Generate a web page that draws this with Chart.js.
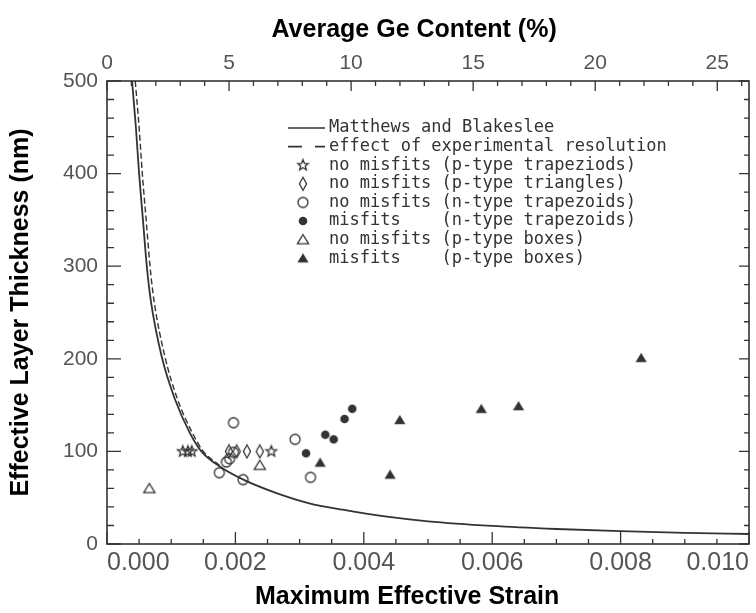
<!DOCTYPE html>
<html>
<head>
<meta charset="utf-8">
<script src="https://cdn.jsdelivr.net/npm/chart.js@4.4.0/dist/chart.umd.min.js"></script>
<style>
  html, body { margin: 0; padding: 0; background: #fff; }
  #wrap { position: relative; width: 756px; height: 613px; }
</style>
</head>
<body>
<div id="wrap"><canvas id="grafica"></canvas></div>
<script>
// Matthews-Blakeslee critical thickness curve
const mbStrain = [0.00039, 0.00045, 0.0005, 0.00056, 0.00062, 0.00068, 0.00085, 0.00106, 0.00129, 0.00147, 0.00175, 0.00214, 0.00264, 0.00315, 0.00367, 0.0043, 0.005, 0.006, 0.007, 0.008, 0.009, 0.01];
const mbThickness = [500, 450, 400, 350, 300, 264, 203, 156, 120, 100, 84, 69, 55, 44, 37, 30, 24.5, 19.5, 16.2, 13.8, 12.1, 10.8];

// effect of experimental resolution (dashed)
const resStrain = [0.00044, 0.0005, 0.00055, 0.00061, 0.00067, 0.00073, 0.0009, 0.0011, 0.00133, 0.0015, 0.00177];
const resThickness = [500, 450, 400, 350, 300, 264, 203, 156, 120, 100, 84];

// measured samples
const starStrain = [0.00118, 0.00126, 0.00132, 0.00256];
const starThickness = [100, 100, 100, 100];

const diamondStrain = [0.0019, 0.00202, 0.00218, 0.00238];
const diamondThickness = [100, 100, 100, 100];

const openCircleStrain = [0.00197, 0.00175, 0.00212, 0.00293, 0.00317, 0.00197, 0.00186, 0.00191];
const openCircleThickness = [131, 77, 69.5, 113, 72, 99, 88.5, 92];

const dotStrain = [0.0031, 0.0034, 0.00353, 0.0037, 0.00382];
const dotThickness = [98, 118, 113, 135, 146];

const openTriStrain = [0.00066, 0.00238];
const openTriThickness = [60, 85];

const triStrain = [0.00332, 0.00441, 0.00456, 0.00583, 0.00641, 0.00832];
const triThickness = [88, 75, 134, 146, 149, 201];

const strainTicks = [0, 0.002, 0.004, 0.006, 0.008, 0.01];
const geTicks = [0, 5, 10, 15, 20, 25];
const legendLabels = [
    "Matthews and Blakeslee",
    "effect of experimental resolution",
    "no misfits (p-type trapeziods)",
    "no misfits (p-type triangles)",
    "no misfits (n-type trapezoids)",
    "misfits    (n-type trapezoids)",
    "no misfits (p-type boxes)",
    "misfits    (p-type boxes)"
];

const ink = '#333';

function pts(xs, ys) {
    return xs.map((x, i) => ({x: x, y: ys[i]}));
}

// marker glyphs
function marker(kind) {
    const c = document.createElement('canvas');
    c.width = 16; c.height = 16;
    const g = c.getContext('2d');
    g.strokeStyle = ink; g.fillStyle = ink; g.lineWidth = 1.3;
    g.translate(8, 8);
    g.beginPath();
    if (kind === 'star') {
        for (let i = 0; i < 10; i++) {
            const r = i % 2 ? 2.4 : 5.6;
            const a = -Math.PI / 2 + i * Math.PI / 5;
            g.lineTo(r * Math.cos(a), r * Math.sin(a));
        }
        g.closePath(); g.stroke();
    } else if (kind === 'diamond') {
        g.moveTo(0, -6.5); g.lineTo(3.6, 0); g.lineTo(0, 6.5); g.lineTo(-3.6, 0);
        g.closePath(); g.stroke();
    } else if (kind === 'circle') {
        g.arc(0, 0, 5, 0, Math.PI * 2); g.stroke();
    } else if (kind === 'dot') {
        g.arc(0, 0, 4.3, 0, Math.PI * 2); g.fill();
    } else if (kind === 'tri' || kind === 'filltri') {
        g.moveTo(0, -5); g.lineTo(5.6, 4.2); g.lineTo(-5.6, 4.2);
        g.closePath();
        if (kind === 'tri') g.stroke(); else g.fill();
    }
    return c;
}

const glyphs = {
    star: marker('star'), diamond: marker('diamond'), circle: marker('circle'),
    dot: marker('dot'), tri: marker('tri'), filltri: marker('filltri')
};

function scatterSet(label, data, glyph) {
    return {label: label, type: 'scatter', data: data, pointStyle: glyph, pointRadius: 6, showLine: false};
}

// inward tick marks + frame + legend
const frameTicks = {
    id: 'frameTicks',
    afterDraw(chart) {
        const {ctx, chartArea: a, scales} = chart;
        ctx.save();
        ctx.strokeStyle = ink;
        ctx.lineWidth = 1.6;
        ctx.strokeRect(a.left, a.top, a.right - a.left, a.bottom - a.top);
        ctx.lineWidth = 1.3;
        ctx.beginPath();
        for (let i = 0; i <= 20; i++) {
            const px = scales.x.getPixelForValue(i * 0.0005);
            const len = i % 4 === 0 ? 12 : 5;
            ctx.moveTo(px, a.bottom); ctx.lineTo(px, a.bottom - len);
        }
        for (let i = 0; i <= 26; i++) {
            const px = scales.x2.getPixelForValue(i);
            const len = i % 5 === 0 ? 10 : 5;
            ctx.moveTo(px, a.top); ctx.lineTo(px, a.top + len);
        }
        for (let i = 0; i <= 25; i++) {
            const py = scales.y.getPixelForValue(i * 20);
            const major = i % 5 === 0;
            ctx.moveTo(a.left, py); ctx.lineTo(a.left + (major ? 14 : 7), py);
            ctx.moveTo(a.right, py); ctx.lineTo(a.right - (major ? 10 : 5), py);
        }
        ctx.stroke();

        // legend
        const lx = 288, tx = 329, y0 = 128, dy = 18.6;
        ctx.font = '17px "DejaVu Sans Mono"';
        ctx.fillStyle = ink;
        ctx.textBaseline = 'middle';
        ctx.textAlign = 'left';
        ctx.lineWidth = 1.6;
        ctx.beginPath();
        ctx.moveTo(lx, y0); ctx.lineTo(lx + 37, y0);
        ctx.moveTo(lx, y0 + dy); ctx.lineTo(lx + 14, y0 + dy);
        ctx.moveTo(lx + 27, y0 + dy); ctx.lineTo(lx + 37, y0 + dy);
        ctx.stroke();
        const order = ['star', 'diamond', 'circle', 'dot', 'tri', 'filltri'];
        legendLabels.forEach((t, i) => {
            const y = y0 + i * dy;
            ctx.fillText(t, tx, y);
            if (i >= 2) {
                const gl = glyphs[order[i - 2]];
                ctx.drawImage(gl, 303 - gl.width / 2, y - gl.height / 2);
            }
        });
        ctx.restore();
    }
};

const titleFont = {family: "'Liberation Sans Narrow', 'Liberation Sans', Arial", size: 25, weight: 'bold'};
const tickColor = '#555';

const graph = document.querySelector('#grafica');

const data = {
    datasets: [
        {label: legendLabels[0], type: 'line', data: pts(mbStrain, mbThickness), borderColor: ink, borderWidth: 1.8, pointRadius: 0, fill: false, cubicInterpolationMode: 'monotone'},
        {label: legendLabels[1], type: 'line', data: pts(resStrain, resThickness), borderColor: ink, borderWidth: 1.4, borderDash: [6, 3], pointRadius: 0, fill: false, cubicInterpolationMode: 'monotone'},
        scatterSet(legendLabels[2], pts(starStrain, starThickness), glyphs.star),
        scatterSet(legendLabels[3], pts(diamondStrain, diamondThickness), glyphs.diamond),
        scatterSet(legendLabels[4], pts(openCircleStrain, openCircleThickness), glyphs.circle),
        scatterSet(legendLabels[5], pts(dotStrain, dotThickness), glyphs.dot),
        scatterSet(legendLabels[6], pts(openTriStrain, openTriThickness), glyphs.tri),
        scatterSet(legendLabels[7], pts(triStrain, triThickness), glyphs.filltri)
    ]
};

const noPad = s => { s.paddingLeft = 0; s.paddingRight = 0; };

const config = {
    type: 'scatter',
    data: data,
    plugins: [frameTicks],
    options: {
        responsive: true,
        maintainAspectRatio: false,
        animation: false,
        events: [],
        layout: {padding: {left: 0, right: 6, top: 0, bottom: 0}},
        plugins: {legend: {display: false}, tooltip: {enabled: false}},
        scales: {
            x: {
                type: 'linear', position: 'bottom', min: 0, max: 0.01,
                grid: {display: false, drawTicks: false}, border: {display: false},
                afterBuildTicks: s => { s.ticks = strainTicks.map(v => ({value: v})); },
                ticks: {callback: v => Number(v).toFixed(3), color: tickColor, font: {family: 'Liberation Sans', size: 25}, padding: 4, maxRotation: 0, autoSkip: false, align: 'inner'},
                title: {display: true, text: 'Maximum Effective Strain      ', color: '#000', font: titleFont, padding: {top: 0, bottom: 1}},
                afterFit: s => { s.height = 69; noPad(s); }
            },
            x2: {
                type: 'linear', position: 'top', min: 0, max: 26.3,
                grid: {display: false, drawTicks: false}, border: {display: false},
                afterBuildTicks: s => { s.ticks = geTicks.map(v => ({value: v})); },
                ticks: {color: tickColor, font: {family: 'Liberation Sans', size: 21}, padding: 5, maxRotation: 0, autoSkip: false},
                title: {display: true, text: 'Average Ge Content (%)    ', color: '#000', font: titleFont, padding: {top: 15, bottom: 0}},
                afterFit: s => { s.height = 81; noPad(s); }
            },
            y: {
                type: 'linear', position: 'left', min: 0, max: 500,
                grid: {display: false, drawTicks: false}, border: {display: false},
                ticks: {stepSize: 100, color: tickColor, font: {family: 'Liberation Sans', size: 21}, padding: 9},
                title: {display: true, text: 'Effective Layer Thickness (nm)', color: '#000', font: titleFont, padding: {top: 6, bottom: 0}},
                afterFit: s => { s.width = 107; }
            }
        }
    }
};

new Chart(graph, config);
</script>
</body>
</html>
